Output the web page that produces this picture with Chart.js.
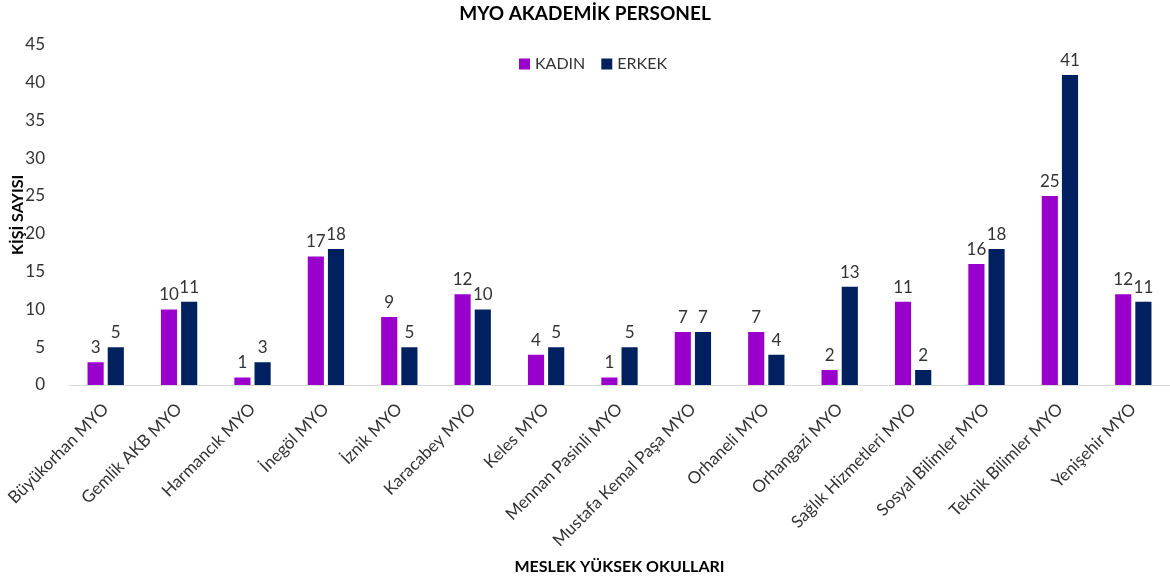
<!DOCTYPE html>
<html>
<head>
<meta charset="utf-8">
<script src="https://cdn.jsdelivr.net/npm/chart.js@4.4.1/dist/chart.umd.min.js"></script>
<style>
  html, body { margin: 0; padding: 0; background: #fff; }
  #wrap { width: 1170px; height: 580px; }
</style>
</head>
<body>
<div id="wrap"><canvas id="myChart" width="1170" height="580"></canvas></div>
<script>
var schools = [
  "Büyükorhan MYO", "Gemlik AKB MYO", "Harmancık MYO", "İnegöl MYO", "İznik MYO",
  "Karacabey MYO", "Keles MYO", "Mennan Pasinli MYO", "Mustafa Kemal Paşa MYO",
  "Orhaneli MYO", "Orhangazi MYO", "Sağlık Hizmetleri MYO", "Sosyal Bilimler MYO",
  "Teknik Bilimler MYO", "Yenişehir MYO"
];
var kadin = [3, 10, 1, 17, 9, 12, 4, 1, 7, 7, 2, 11, 16, 25, 12];
var erkek = [5, 11, 3, 18, 5, 10, 5, 5, 7, 4, 13, 2, 18, 41, 11];

var FONT = "Lato, 'Open Sans', sans-serif";
var TEXT = "#333333";

// value labels above each bar
var valueLabels = {
  id: "valueLabels",
  afterDatasetsDraw(chart) {
    var ctx = chart.ctx;
    ctx.save();
    ctx.font = "17px " + FONT;
    ctx.fillStyle = TEXT;
    ctx.textAlign = "center";
    ctx.textBaseline = "bottom";
    chart.data.datasets.forEach(function (ds, i) {
      chart.getDatasetMeta(i).data.forEach(function (bar, j) {
        ctx.fillText(ds.data[j], bar.x, bar.y - 6);
      });
    });
    ctx.restore();
  }
};

// legend drawn inside the plot area, near the top
var innerLegend = {
  id: "innerLegend",
  afterDraw(chart) {
    var ctx = chart.ctx;
    ctx.save();
    ctx.font = "16px " + FONT;
    ctx.textBaseline = "middle";
    var box = 11, gap = 5, spacing = 16, y = 64;
    var items = chart.data.datasets.map(function (ds) {
      return { label: ds.label, color: ds.backgroundColor, w: ctx.measureText(ds.label).width };
    });
    var total = items.reduce(function (s, it) { return s + box + gap + it.w; }, 0) + spacing * (items.length - 1);
    var x = 593 - total / 2;
    items.forEach(function (it) {
      ctx.fillStyle = it.color;
      ctx.fillRect(x, y - box / 2, box, box);
      ctx.fillStyle = TEXT;
      ctx.textAlign = "left";
      ctx.fillText(it.label, x + box + gap, y);
      x += box + gap + it.w + spacing;
    });
    ctx.restore();
  }
};

var ctx = document.getElementById("myChart").getContext("2d");
var myChart = new Chart(ctx, {
  type: "bar",
  data: {
    labels: schools,
    datasets: [
      { label: "KADIN", data: kadin, backgroundColor: "#9900CC" },
      { label: "ERKEK", data: erkek, backgroundColor: "#002060" }
    ]
  },
  options: {
    responsive: false,
    animation: false,
    layout: { padding: 0 },
    datasets: { bar: { categoryPercentage: 0.55, barPercentage: 0.8 } },
    plugins: {
      legend: { display: false },
      tooltip: { enabled: false },
      title: {
        display: true,
        text: "MYO AKADEMİK PERSONEL",
        color: "#000",
        font: { family: FONT, size: 19, weight: "bold" },
        padding: { top: 2, bottom: 20 }
      }
    },
    scales: {
      x: {
        grid: { display: false },
        border: { display: true, color: "#d9d9d9", width: 1 },
        ticks: {
          color: TEXT,
          font: { family: FONT, size: 17 },
          minRotation: 45,
          maxRotation: 45,
          autoSkip: false,
          padding: 6
        },
        title: {
          display: true,
          text: "MESLEK YÜKSEK OKULLARI",
          color: "#000",
          font: { family: FONT, size: 16, weight: "bold" },
          padding: { top: 0, bottom: 4 }
        },
        afterFit: function (scale) { scale.height = 195; }
      },
      y: {
        min: 0,
        max: 45,
        grid: { display: false },
        border: { display: false },
        ticks: {
          stepSize: 5,
          color: TEXT,
          font: { family: FONT, size: 17 },
          padding: 16
        },
        title: {
          display: true,
          text: "KİŞİ SAYISI",
          color: "#000",
          font: { family: FONT, size: 16, weight: "bold" },
          padding: { top: 8, bottom: 0 }
        },
        afterFit: function (scale) { scale.width = 69; }
      }
    }
  },
  plugins: [valueLabels, innerLegend]
});
</script>
</body>
</html>
